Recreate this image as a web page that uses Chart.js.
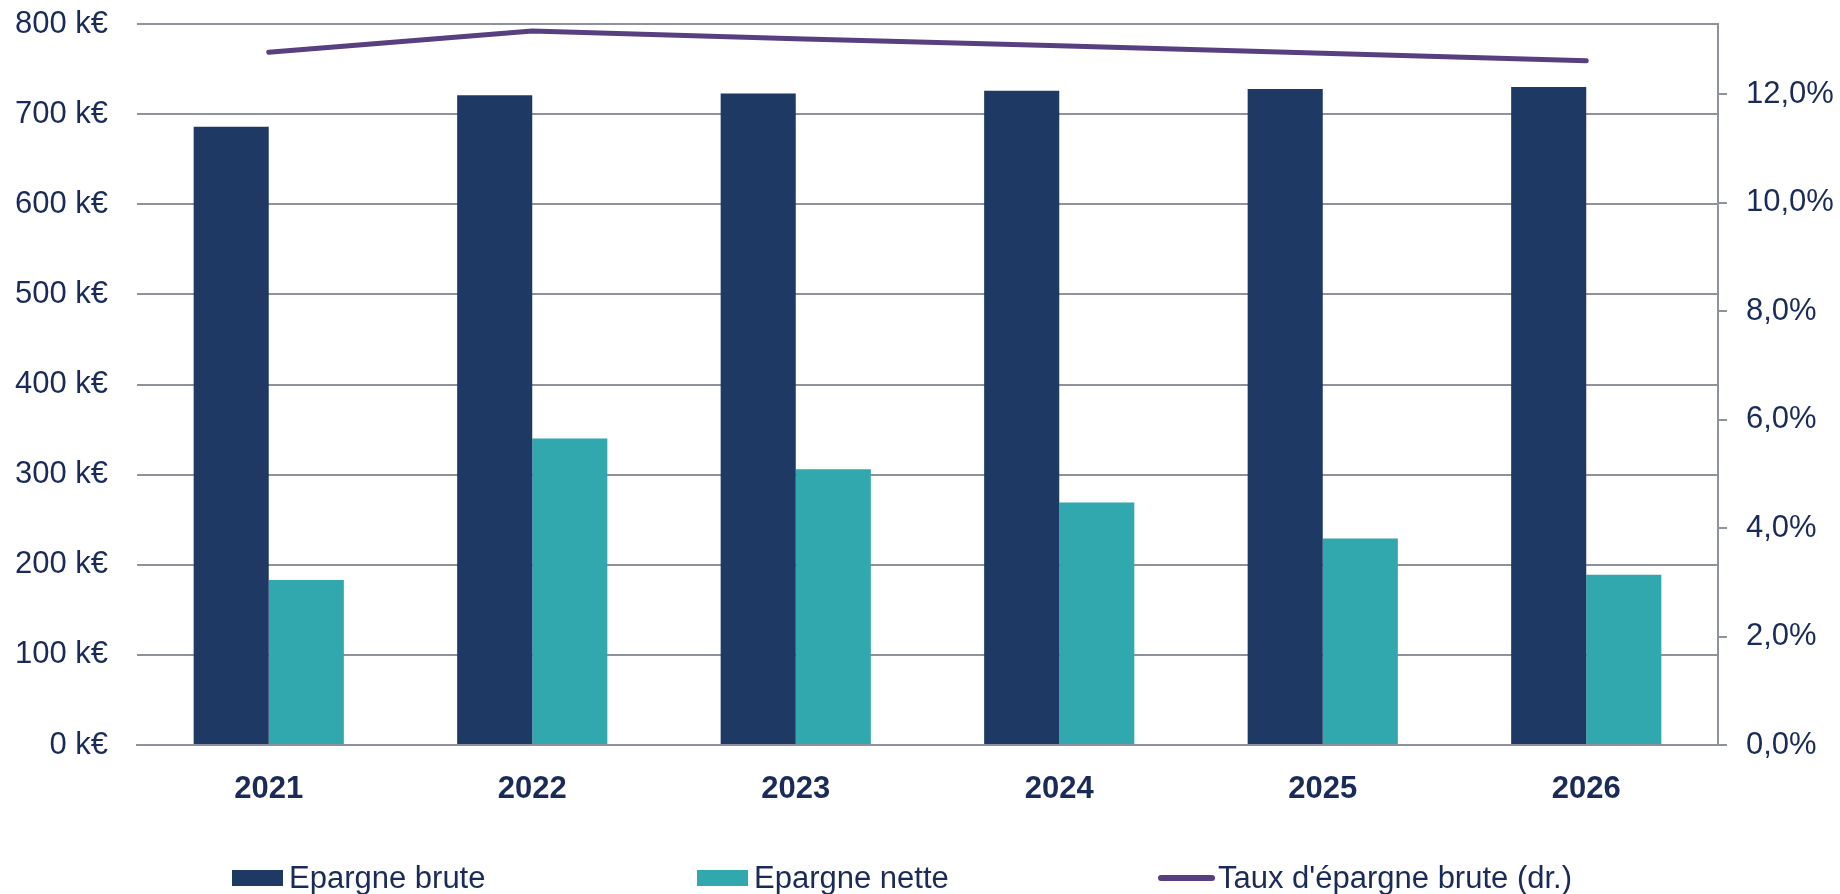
<!DOCTYPE html>
<html>
<head>
<meta charset="utf-8">
<script src="https://cdn.jsdelivr.net/npm/chart.js@4"></script>
<style>
    html, body { margin: 0; padding: 0; background: #fff; }
    #wrap { position: relative; width: 1840px; height: 894px; overflow: hidden; }
    #legend { position: absolute; top: 862px; left: 0; width: 1840px; height: 32px;
        font-family: "Liberation Sans", Arial, sans-serif; font-size: 31px; color: #1b2b58; }
    .item { position: absolute; top: 0; height: 32px; display: flex; align-items: center; white-space: nowrap; }
    .box { width: 51px; height: 16px; margin-right: 6px; }
    .dash { width: 57px; height: 6px; border-radius: 3px; margin-right: 3px; }
</style>
</head>
<body>
<div id="wrap">
    <canvas id="epargneChart"></canvas>
    <div id="legend"></div>
</div>
<script>
// data
const years = ['2021', '2022', '2023', '2024', '2025', '2026'];
const epargneBrute = [686, 721, 723, 726, 728, 730];
const epargneNette = [183, 340, 306, 269, 229, 189];
const tauxEpargne = [12.78, 13.17, 13.03, 12.90, 12.76, 12.62];

const navy = '#1e3963';
const teal = '#31a8ae';
const purple = '#583f80';
const textColor = '#1b2b58';
const gridColor = '#8e919e';
const font = 'Liberation Sans, Arial, sans-serif';

const ctx = document.getElementById('epargneChart').getContext('2d');

// keep the plot area where the picture has it
function fixYAxis(scale, width) {
    scale.width = width;
    scale.paddingTop = 0;
    scale.paddingBottom = 0;
}

const chart = new Chart(ctx, {
    type: 'bar',
    data: {
        labels: years,
        datasets: [
            {
                type: 'line',
                label: "Taux d'épargne brute (dr.)",
                data: tauxEpargne,
                yAxisID: 'y1',
                borderColor: purple,
                borderWidth: 5,
                borderCapStyle: 'round',
                borderJoinStyle: 'round',
                pointRadius: 0,
                tension: 0,
                order: 0
            },
            {
                label: 'Epargne brute',
                data: epargneBrute,
                backgroundColor: navy,
                yAxisID: 'y',
                order: 1
            },
            {
                label: 'Epargne nette',
                data: epargneNette,
                backgroundColor: teal,
                yAxisID: 'y',
                order: 1
            }
        ]
    },
    options: {
        responsive: true,
        maintainAspectRatio: false,
        animation: false,
        layout: { padding: { top: 24, left: 0, right: 0, bottom: 0 } },
        datasets: {
            bar: { categoryPercentage: 0.57, barPercentage: 1.0 }
        },
        plugins: {
            legend: { display: false },
            tooltip: { enabled: false }
        },
        scales: {
            x: {
                grid: { display: false },
                border: { display: true, color: gridColor, width: 2 },
                ticks: {
                    color: textColor,
                    font: { family: font, size: 31, weight: 'bold' },
                    padding: 18,
                    maxRotation: 0
                },
                afterFit: (scale) => {
                    scale.height = 149;
                    scale.paddingLeft = 0;
                    scale.paddingRight = 0;
                }
            },
            y: {
                position: 'left',
                min: 0,
                max: 800,
                grid: { color: gridColor, lineWidth: 2, drawTicks: false },
                border: { display: false },
                ticks: {
                    stepSize: 100,
                    color: textColor,
                    font: { family: font, size: 31 },
                    padding: 29,
                    callback: (value) => value + ' k€'
                },
                afterFit: (scale) => fixYAxis(scale, 137)
            },
            y1: {
                position: 'right',
                min: 0,
                max: 13.3,
                grid: { drawOnChartArea: false, drawTicks: true, tickLength: 9, color: gridColor, lineWidth: 2 },
                border: { display: true, color: gridColor, width: 2 },
                ticks: {
                    stepSize: 2,
                    includeBounds: false,
                    color: textColor,
                    font: { family: font, size: 31 },
                    padding: 19,
                    callback: (value) => value.toFixed(1).replace('.', ',') + '%'
                },
                afterFit: (scale) => fixYAxis(scale, 122)
            }
        }
    }
});

// legend under the chart, same order as the picture
const legendItems = [
    { text: 'Epargne brute', color: navy, kind: 'box', left: 232 },
    { text: 'Epargne nette', color: teal, kind: 'box', left: 697 },
    { text: "Taux d'épargne brute (dr.)", color: purple, kind: 'dash', left: 1158 }
];
const legend = document.getElementById('legend');
legendItems.forEach(item => {
    const el = document.createElement('div');
    el.className = 'item';
    el.style.left = item.left + 'px';
    const mark = document.createElement('span');
    mark.className = item.kind;
    mark.style.background = item.color;
    const label = document.createElement('span');
    label.textContent = item.text;
    el.appendChild(mark);
    el.appendChild(label);
    legend.appendChild(el);
});
</script>
</body>
</html>
